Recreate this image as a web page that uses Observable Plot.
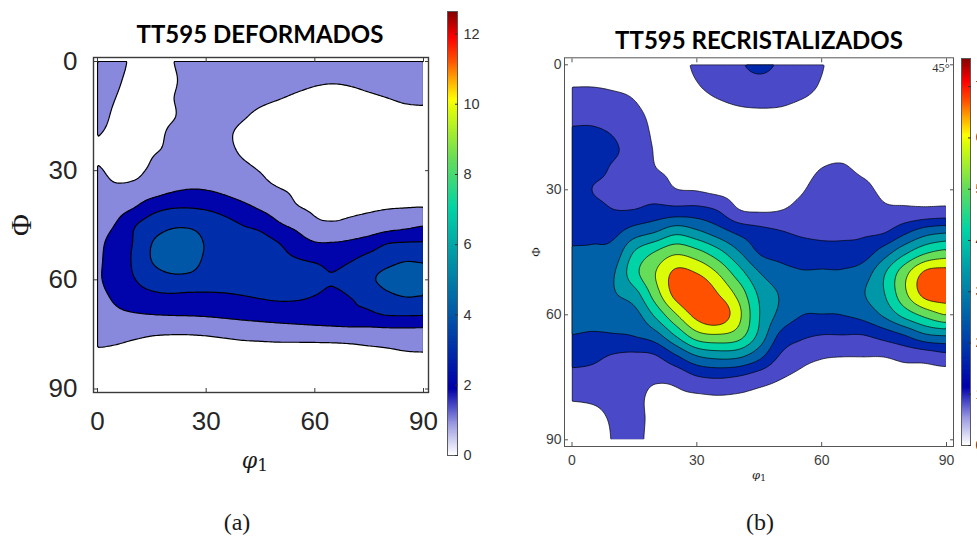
<!DOCTYPE html>
<html lang="es">
<head>
<meta charset="utf-8">
<title>TT595 – secciones φ2 = 45° de la ODF</title>
<script src="https://cdn.jsdelivr.net/npm/d3@7"></script>
<script src="https://cdn.jsdelivr.net/npm/@observablehq/plot@0.6"></script>
<style>
  html, body { margin: 0; padding: 0; background: #fff; width: 977px; height: 542px; overflow: hidden; }
  #page { position: relative; width: 977px; height: 542px; }
  .panel { position: absolute; top: 0; overflow: visible; }
  .panel svg { display: block; max-width: none; }
  .label { position: absolute; white-space: nowrap; line-height: 1; transform: translate(-50%, -50%); }
  .title { font-family: Lato, "Open Sans", sans-serif; font-weight: 700; font-size: 24px; color: #000; }
  .serif { font-family: "Liberation Serif", "DejaVu Serif", serif; color: #1a1a1a; }
  .math { font-family: "DejaVu Serif", serif; color: #1a1a1a; }
  .math i { font-style: italic; }
  .math sub { font-style: normal; font-size: 0.78em; vertical-align: -0.18em; line-height: 0; }
</style>
</head>
<body>
<div id="page"></div>
<script>
// ODF sections at φ2 = 45°, sampled every 5°: rows are Φ, columns φ1 (m.r.d.)
const sampleAngles = [0, 5, 10, 15, 20, 25, 30, 35, 40, 45, 50, 55, 60, 65, 70, 75, 80, 85, 90];
const angleTicks = [0, 30, 60, 90];

const odfDeformados = [
  [1.5, 1.2, 0.9, 0.8, 0.95, 1.2, 1.4, 1.4, 1.35, 1.3, 1.25, 1.2, 1.15, 1.12, 1.12, 1.15, 1.2, 1.25, 1.25],
  [1.4, 1.1, 0.85, 0.75, 0.9, 1.15, 1.35, 1.35, 1.3, 1.22, 1.15, 1.1, 1.05, 1.03, 1.05, 1.1, 1.15, 1.2, 1.2],
  [1.3, 1.0, 0.8, 0.7, 0.95, 1.15, 1.3, 1.3, 1.2, 1.1, 1.02, 0.95, 0.9, 0.88, 0.9, 0.95, 1.0, 1.05, 1.06],
  [1.2, 0.9, 0.75, 0.65, 0.92, 1.15, 1.3, 1.2, 1.05, 0.9, 0.8, 0.75, 0.72, 0.72, 0.75, 0.8, 0.85, 0.9, 0.92],
  [1.02, 0.85, 0.7, 0.7, 1.1, 1.2, 1.3, 1.1, 0.9, 0.78, 0.7, 0.65, 0.62, 0.62, 0.65, 0.7, 0.75, 0.8, 0.82],
  [0.92, 0.8, 0.72, 0.95, 1.1, 1.3, 1.35, 1.15, 0.95, 0.8, 0.72, 0.68, 0.66, 0.66, 0.68, 0.72, 0.78, 0.82, 0.85],
  [1.05, 0.88, 0.85, 1.1, 1.25, 1.4, 1.45, 1.3, 1.15, 0.98, 0.85, 0.78, 0.75, 0.74, 0.76, 0.8, 0.85, 0.88, 0.9],
  [1.2, 1.1, 1.2, 1.45, 1.8, 1.98, 1.95, 1.75, 1.45, 1.2, 1.02, 0.92, 0.88, 0.86, 0.86, 0.87, 0.9, 0.93, 0.95],
  [1.35, 1.6, 1.95, 2.6, 2.9, 2.95, 2.85, 2.6, 2.25, 1.85, 1.45, 1.05, 0.9, 0.9, 0.9, 0.92, 0.96, 0.98, 1.0],
  [1.5, 2.05, 2.9, 3.5, 3.85, 3.9, 3.7, 3.35, 3.0, 2.75, 2.15, 1.75, 1.2, 1.1, 1.2, 1.35, 1.55, 1.75, 1.95],
  [1.75, 2.5, 3.05, 4.0, 4.35, 4.3, 3.95, 3.7, 3.45, 3.35, 3.02, 2.5, 2.08, 2.06, 2.2, 2.5, 2.98, 3.08, 3.1],
  [1.85, 2.55, 3.1, 4.0, 4.4, 4.35, 3.85, 3.6, 3.45, 3.3, 3.2, 3.08, 2.97, 2.85, 3.0, 3.4, 3.75, 4.0, 3.95],
  [1.88, 2.5, 2.95, 3.4, 3.7, 3.7, 3.55, 3.45, 3.35, 3.25, 3.2, 3.15, 3.08, 3.02, 3.2, 3.8, 4.3, 4.55, 4.5],
  [1.7, 2.15, 2.55, 2.72, 2.76, 2.7, 2.72, 2.8, 2.92, 3.02, 3.08, 3.05, 2.97, 2.9, 3.0, 3.2, 3.7, 3.95, 3.9],
  [1.5, 1.75, 1.85, 1.92, 1.96, 1.98, 2.02, 2.1, 2.2, 2.3, 2.4, 2.5, 2.6, 2.7, 2.8, 2.8, 2.95, 2.97, 2.95],
  [1.3, 1.25, 1.15, 1.05, 1.01, 1.01, 1.05, 1.12, 1.2, 1.25, 1.3, 1.32, 1.35, 1.38, 1.42, 1.45, 1.5, 1.52, 1.52],
  [0.9, 0.85, 0.75, 0.7, 0.68, 0.68, 0.7, 0.72, 0.74, 0.74, 0.74, 0.73, 0.72, 0.72, 0.76, 0.84, 0.9, 0.97, 0.99],
  [0.75, 0.7, 0.62, 0.58, 0.56, 0.56, 0.58, 0.6, 0.62, 0.63, 0.63, 0.62, 0.62, 0.62, 0.65, 0.7, 0.75, 0.8, 0.82],
  [0.65, 0.6, 0.55, 0.5, 0.48, 0.48, 0.5, 0.52, 0.54, 0.55, 0.55, 0.55, 0.55, 0.55, 0.57, 0.6, 0.65, 0.7, 0.72]
];

const odfRecristalizados = [
  [0.7, 0.72, 0.7, 0.66, 0.55, 0.65, 0.95, 1.3, 1.6, 1.8, 1.6, 1.25, 0.88, 0.6, 0.44, 0.44, 0.44, 0.44, 0.44],
  [0.82, 0.82, 0.78, 0.74, 0.6, 0.6, 0.8, 1.1, 1.35, 1.45, 1.35, 1.1, 0.78, 0.55, 0.47, 0.47, 0.46, 0.46, 0.46],
  [1.25, 1.25, 1.1, 0.9, 0.65, 0.55, 0.55, 0.7, 0.83, 0.88, 0.85, 0.72, 0.6, 0.52, 0.5, 0.5, 0.5, 0.5, 0.5],
  [1.7, 1.7, 1.55, 1.2, 0.7, 0.6, 0.55, 0.52, 0.5, 0.48, 0.5, 0.52, 0.56, 0.58, 0.55, 0.55, 0.54, 0.53, 0.52],
  [1.9, 1.88, 1.75, 1.4, 0.78, 0.68, 0.6, 0.55, 0.52, 0.5, 0.52, 0.55, 0.65, 0.7, 0.62, 0.6, 0.58, 0.57, 0.56],
  [2.0, 1.85, 1.62, 1.45, 0.87, 0.75, 0.68, 0.6, 0.55, 0.52, 0.56, 0.62, 0.85, 0.9, 0.74, 0.68, 0.64, 0.62, 0.6],
  [2.05, 1.67, 1.6, 1.52, 1.3, 0.87, 0.8, 0.65, 0.62, 0.58, 0.65, 0.78, 1.1, 1.15, 1.0, 0.72, 0.72, 0.7, 0.68],
  [2.15, 1.9, 1.7, 1.72, 1.95, 2.0, 2.0, 1.68, 0.9, 0.78, 0.84, 1.05, 1.3, 1.32, 1.3, 0.98, 0.98, 1.0, 1.05],
  [2.35, 2.3, 2.3, 2.9, 3.3, 3.9, 3.5, 2.9, 2.3, 1.95, 1.72, 1.55, 1.52, 1.52, 1.55, 1.6, 2.3, 2.95, 3.2],
  [2.6, 2.65, 2.85, 4.25, 5.08, 5.7, 5.3, 4.5, 3.45, 2.45, 2.2, 2.05, 1.95, 1.95, 2.1, 2.95, 4.0, 4.9, 5.3],
  [2.85, 2.95, 3.3, 4.75, 5.85, 6.9, 6.7, 5.86, 4.6, 3.4, 2.85, 2.6, 2.62, 2.62, 2.95, 4.1, 5.6, 6.9, 7.05],
  [2.95, 3.05, 3.3, 3.85, 5.45, 7.0, 7.45, 6.74, 5.6, 4.05, 3.3, 2.85, 2.75, 2.75, 3.3, 4.15, 5.7, 7.0, 7.1],
  [2.8, 2.85, 2.95, 3.05, 4.35, 5.8, 7.0, 7.3, 6.1, 4.22, 3.15, 2.55, 2.5, 2.53, 2.8, 3.5, 4.5, 5.3, 5.9],
  [2.5, 2.42, 2.45, 2.55, 3.0, 4.25, 5.5, 5.75, 5.4, 3.95, 2.35, 1.85, 1.65, 1.65, 1.65, 2.0, 2.5, 3.2, 3.38],
  [1.95, 1.85, 1.6, 1.5, 1.6, 2.4, 3.3, 3.6, 3.5, 2.75, 1.6, 1.1, 0.9, 0.85, 0.85, 0.86, 1.05, 1.15, 1.4],
  [1.45, 1.42, 1.3, 1.2, 1.0, 1.1, 1.6, 1.75, 1.6, 1.25, 0.9, 0.7, 0.62, 0.6, 0.6, 0.6, 0.62, 0.6, 0.5],
  [0.9, 0.95, 1.05, 1.08, 0.6, 0.7, 0.7, 0.75, 0.7, 0.6, 0.55, 0.5, 0.48, 0.48, 0.48, 0.48, 0.48, 0.47, 0.47],
  [0.6, 0.65, 0.92, 1.05, 0.62, 0.55, 0.55, 0.52, 0.5, 0.48, 0.45, 0.44, 0.42, 0.42, 0.42, 0.42, 0.42, 0.42, 0.42],
  [0.5, 0.52, 0.88, 1.02, 0.58, 0.5, 0.5, 0.48, 0.45, 0.44, 0.42, 0.4, 0.4, 0.4, 0.4, 0.4, 0.4, 0.4, 0.4]
];

// contour levels and colour-bar ranges
const levelsDeformados = [1, 2, 3, 4];
const levelsRecristalizados = [0.84, 1.68, 2.52, 3.36, 4.19, 5.03, 5.87, 6.71];
const maxDeformados = 12.64;
const maxRecristalizados = 7.55;
const barTicksDeformados = [0, 2, 4, 6, 8, 10, 12];
const barTicksRecristalizados = [0, 1, 2, 3, 4, 5, 6, 7];

// white-to-jet colour map: [fraction of the colour-bar maximum, colour]
const colormap = [
  [0, "#ffffff"], [0.07, "#9a9ae2"], [0.111, "#4a4ac8"], [0.15, "#0000aa"],
  [0.222, "#0026aa"], [0.333, "#0060a8"], [0.444, "#0096a8"], [0.555, "#00d4a6"],
  [0.667, "#66dd58"], [0.778, "#dcfc08"], [0.8, "#ffff00"], [0.85, "#ffa000"],
  [0.889, "#ff5000"], [0.94, "#ff0000"], [1, "#800000"]
];

function colorScale(max) {
  return {
    type: "linear",
    domain: colormap.map(([t]) => t * max),
    range: colormap.map(([, c]) => c),
    interpolate: "rgb",
    clamp: true
  };
}

// table of samples {phi1, Phi, mrd} for the contour mark
function samples(odf) {
  return odf.flatMap((row, r) => row.map((mrd, c) => ({phi1: sampleAngles[c], Phi: sampleAngles[r], mrd})));
}

// Catmull–Rom surface through a regular n×n set of samples, as a raster interpolator
function catmullRom(n) {
  const weights = (t) => {
    const t2 = t * t, t3 = t2 * t;
    return [(-t3 + 2 * t2 - t) / 2, (3 * t3 - 5 * t2 + 2) / 2, (-3 * t3 + 4 * t2 + t) / 2, (t3 - t2) / 2];
  };
  return (index, width, height, X, Y, V) => {
    let xa = Infinity, xb = -Infinity, ya = Infinity, yb = -Infinity;
    for (const i of index) {
      if (X[i] < xa) xa = X[i];
      if (X[i] > xb) xb = X[i];
      if (Y[i] < ya) ya = Y[i];
      if (Y[i] > yb) yb = Y[i];
    }
    const grid = new Float64Array(n * n);
    for (const i of index) {
      const c = Math.round(((X[i] - xa) / (xb - xa)) * (n - 1));
      const r = Math.round(((Y[i] - ya) / (yb - ya)) * (n - 1));
      grid[r * n + c] = V[i];
    }
    const at = (r, c) => grid[Math.max(0, Math.min(n - 1, r)) * n + Math.max(0, Math.min(n - 1, c))];
    const out = new Float64Array(width * height);
    for (let py = 0; py < height; ++py) {
      const gy = Math.max(0, Math.min(n - 1, ((py + 0.5 - ya) / (yb - ya)) * (n - 1)));
      const ry = Math.min(n - 2, Math.floor(gy));
      const wy = weights(gy - ry);
      for (let px = 0; px < width; ++px) {
        const gx = Math.max(0, Math.min(n - 1, ((px + 0.5 - xa) / (xb - xa)) * (n - 1)));
        const rx = Math.min(n - 2, Math.floor(gx));
        const wx = weights(gx - rx);
        let s = 0;
        for (let a = 0; a < 4; ++a) {
          for (let b = 0; b < 4; ++b) s += wy[a] * wx[b] * at(ry - 1 + a, rx - 1 + b);
        }
        out[py * width + px] = s;
      }
    }
    return out;
  };
}

const page = document.getElementById("page");

function place(node, left, width) {
  const div = document.createElement("div");
  div.className = "panel";
  div.style.left = left + "px";
  div.style.width = width + "px";
  div.append(node);
  page.append(div);
}

function label(html, x, y, cls, style = "") {
  const div = document.createElement("div");
  div.className = "label " + cls;
  div.style.left = x + "px";
  div.style.top = y + "px";
  if (style) div.style.cssText += style;
  div.innerHTML = html;
  page.append(div);
}

// one φ2 = 45° section: filled contours, padded box with inward ticks, angle labels
function section(o) {
  const tickMarks = (anchor, shift) => (anchor === "bottom" || anchor === "top")
    ? Plot.axisX(angleTicks, {anchor, tickSize: -o.tick, dy: shift, tickFormat: () => "", stroke: o.frameColor, label: null})
    : Plot.axisY(angleTicks, {anchor, tickSize: -o.tick, dx: shift, tickFormat: () => "", stroke: o.frameColor, label: null});
  return Plot.plot({
    width: o.width,
    height: o.height,
    marginLeft: o.margin.left,
    marginRight: o.margin.right,
    marginTop: o.margin.top,
    marginBottom: o.margin.bottom,
    x: {domain: [0, 90], axis: null},
    y: {domain: [0, 90], reverse: true, axis: null},
    color: colorScale(o.max),
    style: {
      background: "transparent",
      color: o.textColor,
      fontFamily: "'Liberation Sans', Arial, sans-serif",
      fontSize: o.fontSize + "px",
      maxWidth: "none",
      overflow: "visible"
    },
    marks: [
      Plot.contour(samples(o.values), {
        x: "phi1",
        y: "Phi",
        fill: "mrd",
        interpolate: catmullRom(sampleAngles.length),
        thresholds: o.levels,
        stroke: "#000",
        strokeWidth: o.lineWidth,
        clip: true
      }),
      Plot.frame({
        stroke: o.frameColor, strokeWidth: o.frameWidth,
        insetLeft: -o.pad.left, insetRight: -o.pad.right,
        insetTop: -o.pad.top, insetBottom: -o.pad.bottom
      }),
      tickMarks("bottom", o.pad.bottom),
      tickMarks("top", -o.pad.top),
      tickMarks("left", -o.pad.left),
      tickMarks("right", o.pad.right),
      Plot.axisX(angleTicks, {anchor: "bottom", tickSize: 0, tickPadding: o.padX, label: null}),
      Plot.axisY(angleTicks, {anchor: "left", tickSize: 0, tickPadding: o.padY, label: null})
    ]
  });
}

// vertical colour bar drawn from the same colour scale
function colorbar(o) {
  const step = o.max / 300;
  const cells = d3.range(0, o.max, step);
  return Plot.plot({
    width: o.width,
    height: o.height,
    marginLeft: o.margin.left,
    marginRight: o.margin.right,
    marginTop: o.margin.top,
    marginBottom: o.margin.bottom,
    x: {domain: [0, 1], axis: null},
    y: {domain: [0, o.max], axis: null},
    color: colorScale(o.max),
    style: {
      background: "transparent",
      color: "#333",
      fontFamily: "'Liberation Sans', Arial, sans-serif",
      fontSize: o.fontSize + "px",
      maxWidth: "none",
      overflow: "visible"
    },
    marks: [
      Plot.rect(cells, {x1: 0, x2: 1, y1: (d) => d, y2: (d) => Math.min(o.max, d + step * 1.6), fill: (d) => d + step / 2}),
      Plot.frame({stroke: "#5a5a5a", strokeWidth: 1}),
      Plot.axisY(o.ticks, {anchor: "right", tickSize: -3, tickFormat: () => "", stroke: "#333", label: null}),
      Plot.axisY(o.ticks, {anchor: "right", tickSize: 0, tickPadding: o.tickPadding, label: null})
    ]
  });
}

// (a) deformed grains
place(section({
  values: odfDeformados, levels: levelsDeformados, max: maxDeformados,
  width: 440, height: 480,
  margin: {left: 97, right: 17, top: 61, bottom: 91.5},
  pad: {left: 4, right: 5, top: 4, bottom: 3.5},
  tick: 4, padX: 23, padY: 20, fontSize: 26,
  lineWidth: 1.2, frameWidth: 1.4, frameColor: "#3a3a3a", textColor: "#262626"
}), 0, 440);

place(colorbar({
  max: maxDeformados, ticks: barTicksDeformados,
  width: 60, height: 480,
  margin: {left: 7, right: 43, top: 11, bottom: 25},
  fontSize: 14.5, tickPadding: 6
}), 440, 60);

// (b) recrystallised grains
place(section({
  values: odfRecristalizados, levels: levelsRecristalizados, max: maxRecristalizados,
  width: 470, height: 480,
  margin: {left: 81.5, right: 14, top: 64.3, bottom: 40.7},
  pad: {left: 7.5, right: 7, top: 7, bottom: 6.7},
  tick: 4, padX: 15, padY: 10.5, fontSize: 14,
  lineWidth: 0.7, frameWidth: 1, frameColor: "#555", textColor: "#404040"
}), 490, 470);

place(colorbar({
  max: maxRecristalizados, ticks: barTicksRecristalizados,
  width: 60, height: 480,
  margin: {left: 11, right: 40, top: 58, bottom: 35},
  fontSize: 14, tickPadding: 5
}), 950, 60);

// titles, axis names and captions
label("TT595 DEFORMADOS", 260, 34, "title");
label("TT595 RECRISTALIZADOS", 759, 40, "title");
label("Φ", 21, 225, "serif", "font-size:30px;transform:translate(-50%,-50%) rotate(-90deg);");
label("<i>φ</i><sub>1</sub>", 255, 461, "math", "font-size:22px;");
label("Φ", 535, 252, "serif", "font-size:13px;transform:translate(-50%,-50%) rotate(-90deg);");
label("<i>φ</i><sub>1</sub>", 759, 476, "math", "font-size:11.5px;");
label("45°", 941, 68, "serif", "font-size:12.5px;color:#333;");
label("(a)", 237, 522, "serif", "font-size:24px;");
label("(b)", 760, 522, "serif", "font-size:24px;");
</script>
</body>
</html>
